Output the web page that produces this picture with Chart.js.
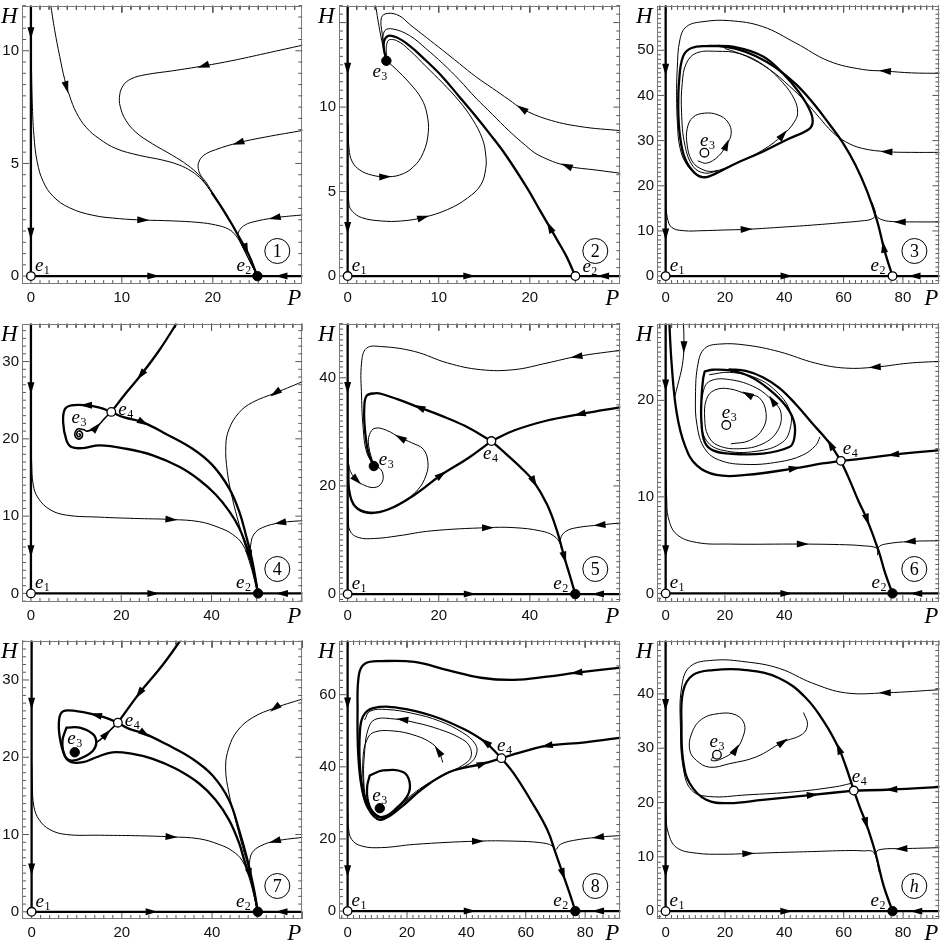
<!DOCTYPE html>
<html><head><meta charset="utf-8">
<script src="https://cdn.jsdelivr.net/npm/chart.js@4.4.1/dist/chart.umd.min.js"></script>
<style>
html,body{margin:0;padding:0;background:#fff;overflow:hidden;width:945px;height:943px;position:relative;}
canvas{position:absolute;}
</style></head><body>
<script>
// ================= DATA (P, H) =================
// ---- Panel 1 ----
const p1_xTicks = [0, 10, 20];
const p1_yTicks = [0, 5, 10];
const p1_open = [[0, 0]];
const p1_filled = [[24.9, 0]];
const p1_vert = [[0, 12.5], [0, 0]];
const p1_horz = [[0, 0], [31, 0]];
const p1_a = [[2.15,12.1],[2.62,10.9],[3.17,9.74],[3.72,8.72],[4.26,7.99],[4.99,7.26],[6.08,6.6],[7.54,6.09],[9.36,5.66],[11.9,5.36],[14.46,5.15],[16.3,4.93],[17.7,4.64],[18.8,4.27],[19.9,3.69],[21.0,3.03],[22.1,2.3],[23.0,1.65],[23.9,0.99],[24.9,0]];
const p1_b = [[30,10.26],[25.76,9.88],[22.1,9.56],[19.0,9.33],[15.56,9.11],[12.64,8.94],[11.0,8.75],[10.1,8.43],[9.73,7.92],[9.9,7.41],[10.46,6.9],[11.55,6.38],[13.37,5.87],[15.56,5.36],[17.2,4.93],[18.47,4.49],[19.56,3.91],[21.0,3.03],[22.1,2.3],[23.0,1.65],[23.9,0.99],[24.9,0]];
const p1_c = [[30,6.47],[25.76,6.17],[22.84,5.92],[20.3,5.61],[19.0,5.36],[18.47,5.07],[18.4,4.78],[18.65,4.49],[19.2,4.2],[19.9,3.76],[21.0,3.03],[22.1,2.3],[23.0,1.65],[23.9,0.99],[24.9,0]];
const p1_d = [[0.05,9.5],[0.15,7.7],[0.33,6.24],[0.69,5.07],[1.35,4.2],[2.44,3.54],[4.26,3.03],[6.81,2.7],[9.73,2.55],[12.28,2.49],[15.56,2.45],[18.47,2.38],[20.3,2.27],[21.75,2.08],[22.55,1.79],[23.2,1.36],[24.1,0.63],[24.9,0]];
const p1_e = [[30,2.72],[26.85,2.59],[24.3,2.39],[23.39,2.23],[22.9,2.01],[22.77,1.79],[23.2,1.36],[24.1,0.63],[24.9,0]];
const p1_f = [[19.9,3.69],[21.0,3.03],[22.1,2.3],[23.0,1.65],[23.9,0.99],[24.9,0]];
const p1_arrows = [[0,10.8,0,10.3],[0,1.9,0,1.4],[13.4,0,14,0],[27.6,0,27,0],[3.9,8.4,4.1,8.1],[19.0,9.33,18.0,9.2],[22.84,5.92,21.8,5.78],[12.3,2.49,13.3,2.48],[26.85,2.59,25.8,2.5],[23.64,1.21,24.0,0.8]];

// ---- Panel 2 ----
const p2_xTicks = [0, 10, 20];
const p2_yTicks = [0, 5, 10];
const p2_open = [[0, 0], [25, 0]];
const p2_filled = [[4.25, 12.74]];
const p2_vert = [[0, 16.5], [0, 0]];
const p2_horz = [[0, 0], [31, 0]];
const p2_thick = [[24.98,0],[24.06,1.12],[23.04,2.1],[22.21,2.87],[21.16,3.84],[19.71,5.2],[17.37,7.15],[15.62,8.4],[13.88,9.57],[12.21,10.64],[10.39,11.8],[8.57,12.77],[6.75,13.65],[5.35,14.13],[4.4,14.2],[3.95,13.7],[4.25,12.74]];
const p2_a = [[30,8.6],[25.5,8.85],[21.9,9.28],[19.16,9.9],[17.7,10.44],[15.89,11.12],[14.07,11.8],[12.25,12.58],[10.44,13.36],[8.62,14.13],[6.8,14.9],[5.71,15.39],[4.44,15.55],[3.71,15.3],[3.8,14.3],[4.0,13.4],[4.25,12.74]];
const p2_b = [[30,6.08],[27.35,6.27],[24.07,6.52],[20.98,7.15],[19.53,7.73],[17.7,8.6],[15.89,9.57],[14.07,10.54],[12.25,11.61],[10.44,12.58],[8.62,13.45],[6.8,14.23],[4.98,14.62],[4.07,14.52],[3.9,13.8],[4.25,12.74]];
const p2_c = [[0.05,5.5],[0.15,4.23],[0.51,3.84],[1.53,3.46],[3.71,3.26],[5.89,3.26],[8.25,3.46],[10.98,3.94],[13.16,4.62],[14.62,5.4],[15.16,6.37],[15.16,7.15],[14.8,8.11],[13.7,9.28],[12.25,10.35],[10.44,11.42],[8.62,12.39],[6.8,13.36],[5.35,13.94],[4.4,13.9],[4.25,12.74]];
const p2_d = [[0.05,9.0],[0.15,7.53],[0.51,6.76],[1.35,6.27],[2.62,5.98],[4.07,5.88],[5.71,5.98],[7.2,6.45],[8.3,7.3],[8.85,8.5],[8.7,9.6],[8.1,10.5],[6.8,11.42],[5.2,12.3],[4.25,12.74]];
const p2_e = [[2.98,16.3],[3.53,14.52],[3.97,13.36],[4.25,12.74]];
const p2_arrows = [[0,12.3,0,11.8],[0,2.87,0,2.37],[13.3,0,13.9,0],[28.1,0,27.5,0],[22.21,2.87,21.85,3.25],[19.16,9.9,18.2,10.25],[24.07,6.52,23.0,6.75],[8.25,3.46,9.3,3.62],[4.07,5.88,5.0,5.9]];

// ---- Panel 3 ----
const p3_xTicks = [0, 20, 40, 60, 80];
const p3_yTicks = [0, 10, 20, 30, 40, 50];
const p3_open = [[0, 0], [76.5, 0], [13.07, 27.33]];
const p3_filled = [];
const p3_vert = [[0, 61], [0, 0]];
const p3_horz = [[0, 0], [93, 0]];
const p3_cycle = [[14.86,51.0],[23.8,50.66],[32.7,48.7],[39.4,45.0],[45.0,40.67],[48.9,36.3],[49.5,33.75],[47.8,32.3],[41.7,30.47],[32.7,27.55],[23.8,25.0],[17.1,22.8],[13.18,21.87],[9.83,22.81],[6.48,26.1],[4.8,31.2],[4.25,37.0],[4.58,43.6],[5.92,48.7],[8.72,50.5],[14.86,51.0]];
const p3_e2 = [[76.5,0],[74.6,3.86],[73.5,6.41],[71.3,12.24],[67.9,18.8],[64.0,24.6],[59.55,29.7],[55.1,33.75],[49.5,38.5],[43.9,42.5],[37.2,46.1],[30.5,48.7],[23.8,50.3],[18,51]];
const p3_outer = [[93,44.9],[83,45.0],[74.1,45.4],[66.3,45.77],[55.1,47.6],[43.9,51.6],[32.7,55.25],[21.6,56.56],[12.6,56.34],[7.04,55.25],[4.8,52.33],[3.9,45.77],[3.69,39.94],[4.0,33.5],[4.8,28.5],[7.0,24.8],[10.4,22.6],[13.7,22.0],[17.1,22.7]];
const p3_mid = [[93,27.4],[83,27.4],[74.6,27.55],[66.3,28.28],[60.7,29.74],[56.2,31.9],[51.7,35.2],[47.3,38.5],[41.7,42.1],[35.0,45.77],[27.15,48.7],[20,50.4]];
const p3_inner = [[10.95,25.5],[13.74,25.0],[17.65,26.46],[20.45,29.0],[22.1,31.56],[21.0,34.1],[17.65,35.7],[13.18,36.08],[9.27,35.2],[7.26,32.65],[7.26,29.0],[8.7,25.7],[11.5,23.9],[16.0,23.2],[23.8,25.0],[32.7,27.9],[39.44,31.2],[43.35,34.1],[44.5,36.3],[43.35,39.2],[39.44,42.86],[32.7,46.87],[24.9,49.27],[17.1,49.78],[10.4,49.4],[7.04,47.2],[5.6,42.86],[5.36,36.3],[6.48,29.0],[9.27,24.27],[13.18,22.81],[17.5,23.3]];
const p3_low = [[0.05,20],[0.1,16.6],[0.56,12.97],[2.0,10.8],[5.92,10.06],[12.6,10.06],[19.3,10.2],[27.15,10.35],[38.3,10.8],[49.5,11.3],[60.7,11.9],[66.26,12.24],[69.3,12.6],[70.8,13.6],[69.6,16.2]];
const p3_lowR = [[93,12.0],[84.5,12.0],[76,12.1],[72.5,12.6],[70.8,13.6],[69.6,16.2]];
const p3_arrows = [[0,45.8,0,44.3],[0,9.33,0,7.8],[40.6,0,42.6,0],[84.1,0,82.1,0],[73.5,6.41,73.0,8.3],[74.1,45.4,72.1,45.5],[74.6,27.55,72.6,27.6],[20.45,29.0,21.3,30.3],[39.44,31.2,41.0,32.4],[27.15,10.35,29.15,10.4],[79.1,12.0,77.1,12.0]];

// ---- Panel 4 ----
const p4_xTicks = [0, 20, 40];
const p4_yTicks = [0, 10, 20, 30];
const p4_open = [[0, 0], [17.8, 23.49]];
const p4_filled = [[50.3, 0]];
const p4_e3 = [[10.66, 20.64]];
const p4_vert = [[0, 36], [0, 0]];
const p4_horz = [[0, 0], [61, 0]];
const p4_top = [[32.87,35.5],[28.46,31.5],[24.4,28.3],[21.1,25.96],[17.8,23.49]];
const p4_spiral = [[10.66,20.64],[10.95,20.55],[10.75,20.3],[10.3,20.35],[10.15,20.7],[10.5,21.0],[11.1,20.95],[11.45,20.55],[11.1,20.1],[10.3,20.0],[9.75,20.4],[9.85,20.95],[10.5,21.3],[11.6,21.2],[12.5,21.0],[14.5,21.5],[16.3,22.64],[17.8,23.49]];
const p4_loop = [[17.8,23.49],[15.2,24.04],[12.3,24.34],[8.97,24.34],[7.5,23.83],[7.13,22.13],[7.87,19.79],[8.97,18.94],[11.54,18.81],[15.2,19.15],[21.1,18.72],[27.0,17.87],[32.87,16.38],[37.3,14.68],[40.96,12.77],[43.9,10.64],[46.1,8.51],[47.57,6.38],[48.46,4.89],[49.4,2.55],[50.3,0]];
const p4_right = [[17.8,23.49],[20.5,22.8],[24.8,22.13],[29.9,20.64],[35.8,18.72],[40.2,16.6],[43.9,13.6],[46.1,10.64],[47.57,7.66],[49.0,4.26],[50.3,0]];
const p4_tr = [[61,27.6],[54.2,25.96],[49.0,24.7],[46.1,23.4],[43.9,21.3],[43.16,19.15],[43.5,15.74],[44.6,12.34],[46.1,8.94],[47.57,5.96],[49.4,2.55],[50.3,0]];
const p4_low = [[0.05,20],[0.15,17.0],[0.51,14.04],[1.6,12.34],[4.2,10.85],[7.87,10.13],[15.2,9.87],[23,9.7],[31.0,9.57],[37.3,9.28],[41.7,8.51],[44.6,7.66],[46.84,6.38],[48.3,4.26],[50.3,0]];
const p4_lowR = [[61,9.45],[55.3,9.15],[51.25,8.51],[49.4,7.66],[48.7,6.38],[48.5,4.5]];
const p4_arrows = [[0,26.6,0,25.6],[0,5.53,0,4.53],[27.0,0,28,0],[55.7,0,54.7,0],[24.4,28.3,23.6,27.7],[14.5,21.5,15.3,22.0],[12.3,24.34,11.3,24.34],[48.46,4.89,48.8,3.9],[24.8,22.13,25.8,21.8],[54.2,25.96,53.3,25.6],[31.0,9.57,32,9.53],[55.3,9.15,54.3,9.05]];

// ---- Panel 5 ----
const p5_xTicks = [0, 20, 40];
const p5_yTicks = [0, 20, 40];
const p5_open = [[0, 0], [31.56, 28.3]];
const p5_filled = [[49.96, 0], [5.75, 23.68]];
const p5_vert = [[0, 51], [0, 0]];
const p5_horz = [[0, 0], [61, 0]];
const p5_e4e2 = [[31.56,28.3],[35.05,25.7],[38.5,23.0],[40.87,20.8],[43.78,16.55],[45.96,11.69],[47.56,6.82],[48.87,3.16],[49.96,0]];
const p5_rIn = [[61,34.7],[56,34.0],[51.05,33.3],[43.78,32.1],[36.5,30.25],[31.56,28.3]];
const p5_up = [[31.56,28.3],[25.6,31.16],[20.5,33.0],[15.78,34.5],[11.05,36.0],[7.5,37.0],[5.96,37.13],[4.15,36.64],[3.64,34.2],[3.78,30.55],[4.5,26.3],[5.75,23.68]];
const p5_lowThick = [[0.1,24],[0.15,22.64],[0.36,18.99],[1.6,16.25],[4.5,15.03],[8.87,15.64],[14.7,18.38],[20.5,22.03],[26.33,25.08],[31.56,28.3]];
const p5_top = [[61,45.2],[50.33,43.94],[43.78,42.73],[36.5,41.5],[29.2,41.5],[21.96,42.73],[14.7,44.86],[7.4,45.77],[4.15,45.47],[3.05,42.73],[3.05,36.64],[3.42,30.55],[4.15,26.3],[5.75,23.68]];
const p5_loop = [[0.1,22],[0.22,20.2],[1.24,16.86],[3.78,15.34],[7.4,15.34],[11.8,16.86],[15.4,19.3],[17.24,22.03],[17.6,24.5],[16.6,26.8],[14.0,28.0],[11.64,28.85],[8.5,30.3],[6.0,30.67],[4.8,29.5],[4.6,27.5],[5.75,23.68]];
const p5_spiral = [[0.1,27],[0.15,26.3],[0.36,23.25],[1.96,21.12],[3.78,20.08],[5.96,19.72],[7.42,20.5],[7.78,22.03],[7.05,23.25],[5.75,23.68]];
const p5_low = [[0.1,16],[0.15,14.1],[0.51,11.69],[2.33,10.47],[5.96,10.29],[11.05,10.77],[18.33,11.69],[30.7,12.29],[36.5,12.29],[42.33,11.69],[45.24,10.77],[46.7,9.25],[47.56,6.82],[48.87,3.16],[49.96,0]];
const p5_lowR = [[61,13.25],[55.4,12.78],[50.33,12.29],[47.8,11.56],[46.7,10.16],[46.9,8.5]];
const p5_arrows = [[0,38.2,0,37.0],[26.7,0,27.7,0],[55.05,0,54.05,0],[40.87,20.8,41.5,19.8],[47.56,6.82,47.9,5.8],[51.05,33.3,50.0,33.1],[15.78,34.5,14.8,34.85],[20.5,22.03,21.4,22.6],[50.33,43.94,49.3,43.8],[11.64,28.85,10.7,29.3],[1.96,21.12,2.7,20.5],[30.7,12.29,31.7,12.29],[55.4,12.78,54.4,12.7]];

// ---- Panel 6 ----
const p6_xTicks = [0, 20, 40];
const p6_yTicks = [0, 10, 20];
const p6_open = [[0, 0], [20.45, 17.44], [59.1, 13.73]];
const p6_filled = [[76.5, 0]];
const p6_vert = [[0, 29], [0, 0]];
const p6_horz = [[0, 0], [93, 0]];
const p6_e4e2 = [[59.1,13.73],[61.8,11.92],[65.0,9.6],[67.9,7.67],[71.8,4.43],[74.1,2.04],[76.5,0]];
const p6_rIn = [[93,14.85],[76.9,14.38],[66.26,13.97],[59.1,13.73]];
const p6_lIn = [[1.1,29],[2.0,23.85],[3.7,18.74],[6.48,15.33],[10.4,13.29],[17.1,12.27],[27.15,12.27],[43.35,12.95],[52.85,13.46],[59.1,13.73]];
const p6_up = [[59.1,13.73],[57.5,14.5],[55.64,15.4],[53.0,16.4],[49.5,17.6],[43.9,19.6],[38.3,21.3],[32.74,22.4],[27,23.05],[21.5,23.2]];
const p6_ring = [[13.18,23.0],[15.98,23.17],[21.56,23.1],[28.27,22.49],[35.0,21.12],[40.56,19.42],[43.35,17.72],[43.35,16.01],[41.7,15.16],[32.74,14.48],[21.56,14.48],[15.98,14.82],[13.18,15.67],[12.07,17.72],[12.07,20.1],[12.6,22.15],[13.18,23.0]];
const p6_outer = [[93,24.05],[81.9,23.85],[70.7,23.44],[60.7,23.34],[50.6,23.85],[38.3,25.04],[27.15,25.72],[18.2,25.83],[13.18,25.38],[10.95,23.85],[10.06,20.44],[10.6,17.38],[13.18,14.99],[18.2,13.8],[27.15,13.36],[38.3,13.63],[46.1,14.31],[50.6,15.33],[52.0,16.18]];
const p6_topdown = [[5.92,29],[6.15,25.55],[5.6,23.6],[4.0,21.5],[3.0,20.3]];
const p6_inner = [[22.1,15.5],[28.27,15.84],[32.74,17.04],[33.85,18.74],[31.6,20.27],[27.7,20.6],[21.56,21.19],[16.5,21.06],[13.74,20.1],[13.18,18.06],[14.3,16.35],[17.65,15.33],[24.9,14.99],[32.74,15.5],[37.77,16.86],[38.88,18.74],[36.1,19.93],[30.5,21.3],[21.56,22.15],[14.86,21.98],[12.6,20.78],[12.07,18.06],[13.74,15.84],[19.33,14.82],[30.5,14.72],[39.44,15.67],[42.2,17.38],[41.7,19.08],[37.2,20.96],[30.5,22.32],[21.56,22.9],[14.86,22.66]];
const p6_low = [[0.1,12],[0.34,9.88],[0.9,7.84],[3.7,6.13],[10.4,5.28],[21.56,5.11],[46.1,5.11],[60.7,5.04],[66.26,4.94],[70.7,4.77],[71.8,4.43],[74.1,2.04],[76.5,0]];
const p6_lowR = [[93,5.46],[82.5,5.38],[74.1,5.11],[71.8,4.77],[71.5,4.0]];
const p6_arrows = [[0,21.6,0,21.0],[0,4.43,0,3.83],[40.56,0,42.56,0],[84.7,0,82.7,0],[67.9,7.67,68.6,7.0],[76.9,14.38,74.9,14.3],[43.35,12.95,45.35,13.05],[55.64,15.4,55.0,15.75],[70.7,23.44,68.7,23.4],[6.15,25.55,6.1,24.9],[27.7,20.6,26.5,20.8],[36.1,19.93,35.0,20.45],[46.1,5.11,48.1,5.11],[82.5,5.38,80.5,5.34]];

// ---- Panel 7 ----
const p7_xTicks = [0, 20, 40];
const p7_yTicks = [0, 10, 20, 30];
const p7_open = [[0, 0], [19.12, 24.47]];
const p7_filled = [[50.15, 0], [9.56, 20.64]];
const p7_vert = [[0, 36], [0, 0]];
const p7_horz = [[0, 0], [61, 0]];
const p7_top = [[33.46,35.5],[29.0,31.9],[23.9,28.3],[20.96,25.96],[19.12,24.47]];
const p7_loop = [[19.12,24.47],[16.5,25.1],[14.34,25.45],[9.93,25.96],[6.99,25.96],[6.1,24.9],[6.25,22.55],[7.35,20.2],[8.82,19.36],[11.4,19.36],[14.34,20.0],[17.9,20.64],[22.4,20.43],[26.84,19.79],[32.0,18.5],[37.13,16.6],[40.8,14.47],[43.75,11.9],[45.96,8.94],[47.5,6.0],[48.3,4.9],[49.3,2.5],[50.15,0]];
const p7_right = [[19.12,24.47],[21.5,23.7],[25.0,23.06],[29.8,21.7],[35.66,19.79],[40.07,17.66],[43.75,14.47],[45.96,10.64],[47.8,6.8],[49.26,2.98],[50.15,0]];
const p7_ring = [[7.72,23.83],[10.66,23.83],[13.6,22.98],[14.34,21.9],[13.6,20.85],[11.4,20.0],[8.82,19.57],[7.35,20.2],[6.84,22.13],[7.72,23.83]];
const p7_toE4 = [[14.34,21.9],[15.5,22.4],[16.54,22.98],[18.0,23.83],[19.12,24.47]];
const p7_tr = [[61,27.7],[54.0,26.4],[48.9,25.1],[45.6,23.4],[43.75,21.28],[43.0,18.72],[43.75,15.32],[45.2,11.9],[46.7,8.5],[48.16,5.53],[49.3,2.5],[50.15,0]];
const p7_low = [[0.05,19],[0.15,16.6],[0.51,13.6],[1.69,11.9],[4.04,10.64],[7.72,10.0],[15.07,9.91],[23,9.85],[30.9,9.7],[37.13,9.45],[41.54,8.72],[44.5,7.87],[46.7,6.6],[48.3,4.26],[50.15,0]];
const p7_lowR = [[61,9.7],[54.0,9.15],[50.7,8.51],[48.9,7.66],[48.3,6.38],[48.2,5.0]];
const p7_arrows = [[0,27.0,0,26.0],[0,5.53,0,4.53],[26.5,0,27.5,0],[55.5,0,54.5,0],[23.9,28.3,23.1,27.65],[14.34,25.45,13.3,25.6],[48.3,4.9,48.7,3.8],[25.0,23.06,26.0,22.65],[16.54,22.98,17.3,23.45],[54.0,26.4,53.1,26.0],[30.9,9.7,31.9,9.66],[54.0,9.15,53.0,9.0]];

// ---- Panel 8 ----
const p8_xTicks = [0, 20, 40, 60, 80];
const p8_yTicks = [0, 20, 40, 60];
const p8_open = [[0, 0], [51.8, 42.4]];
const p8_filled = [[76.67, 0], [10.83, 28.53]];
const p8_vert = [[0, 76], [0, 0]];
const p8_horz = [[0, 0], [93, 0]];
const p8_e4e2 = [[51.8,42.4],[56.0,38.1],[61.6,30.8],[67.2,22.6],[70.0,16.2],[72.5,10.3],[75.0,4.38],[76.67,0]];
const p8_rIn = [[93,48.2],[80,46.8],[67.2,45.85],[58.26,44.0],[51.8,42.4]];
const p8_big = [[51.8,42.4],[49.0,44.8],[46.5,46.8],[39.3,50.4],[28.7,54.1],[17.5,56.3],[8.6,56.3],[5.25,54.1],[4.13,49.5],[4.13,40.4],[5.25,33.1],[7.48,28.5],[11.94,25.8],[17.5,28.5],[25.3,34.0],[34.26,38.56],[45.4,40.84],[51.8,42.4]];
const p8_small = [[7.48,37.65],[11.94,39.0],[18.64,38.56],[20.87,35.8],[20.3,32.2],[16.4,28.5],[12.5,26.25],[9.15,26.7],[6.9,30.4],[6.58,34.5],[7.48,37.65]];
const p8_spiral = [[32.0,41.3],[30.9,44.0],[28.7,46.3],[23.1,48.6],[15.3,49.95],[8.6,49.5],[6.36,47.2],[5.25,43.1],[5.25,35.8],[6.36,30.4],[9.7,26.7],[13.06,26.25],[17.5,29.44],[25.3,34.46],[33.15,38.1],[38.7,40.4],[41.5,42.66],[40.96,45.85],[37.6,48.1],[30.9,50.4],[23.1,52.2],[15.3,53.3],[9.15,53.1],[6.9,50.4],[5.8,44.9],[5.47,35.8],[6.9,29.44],[10.27,26.25],[13.6,26.25],[18.64,29.9],[26.45,34.7],[34.26,38.4],[40.96,40.84],[43.4,43.57],[43.0,46.3],[38.7,49.5],[30.9,52.7],[22.0,54.8],[13.06,55.9],[7.48,55.4],[5.8,53.1]];
const p8_top = [[93,67.6],[77.2,66.1],[67.2,65.0],[56.0,64.1],[44.9,64.7],[33.7,66.8],[22.5,69.1],[11.4,69.3],[5.8,68.6],[3.8,65.5],[3.35,55.4],[3.57,43.6],[4.7,34.5],[6.9,28.5],[10.83,25.3],[15.85,27.6]];
const p8_low = [[0.1,27],[0.22,23.5],[1.34,19.9],[4.7,18.05],[11.4,17.6],[22.5,18.5],[43.75,19.4],[56.0,19.4],[65.0,18.96],[68.9,18.05],[70.0,16.2]];
const p8_lowR = [[93,21.0],[84.5,20.5],[76.1,19.6],[71.65,18.5],[70.3,17.1]];
const p8_arrows = [[0,57.7,0,55.7],[0,11.2,0,9.2],[40.96,0,42.96,0],[84.5,0,82.5,0],[72.5,10.3,73.2,8.6],[67.2,45.85,65.2,45.5],[46.5,46.8,45.2,47.6],[45.4,40.84,46.9,41.3],[30.6,44.3,29.6,45.5],[18.6,53.1,16.6,53.3],[77.2,66.1,75.2,65.9],[43.75,19.4,45.75,19.4],[84.5,20.5,82.5,20.3]];

// ---- Panel h ----
const ph_xTicks = [0, 20, 40, 60, 80];
const ph_yTicks = [0, 10, 20, 30, 40];
const ph_open = [[0, 0], [17.3, 28.8], [63.4, 22.2]];
const ph_filled = [[76.45, 0]];
const ph_vert = [[0, 51], [0, 0]];
const ph_horz = [[0, 0], [93, 0]];
const ph_e4e2 = [[63.4,22.2],[65.5,19.0],[67.5,16.24],[70.65,10.8],[73.4,4.73],[76.45,0]];
const ph_rIn = [[93,22.9],[76.2,22.4],[63.4,22.2]];
const ph_big = [[63.4,22.2],[60.5,27.0],[58.4,29.9],[53.9,34.4],[47.2,39.3],[38.3,42.9],[27.1,44.4],[16.0,44.4],[9.26,43.5],[5.9,40.5],[5.36,33.8],[5.9,27.75],[8.15,23.5],[13.7,20.5],[21.5,19.9],[32.7,20.5],[49.4,21.4],[63.4,22.2]];
const ph_outer = [[93,40.8],[74.0,40.2],[60.6,40.2],[49.4,42.0],[38.3,44.7],[27.1,45.9],[16.0,46.2],[8.15,45.0],[5.36,41.1],[5.0,33.8],[5.9,26.5],[8.7,22.3],[14.8,21.1],[27.1,21.4],[43.86,22.0],[57.25,22.9],[62.3,23.5]];
const ph_inner = [[17.3,28.8],[16.0,28.4],[15.4,27.75],[18.2,27.9],[23.55,29.7],[26.0,32.0],[26.56,34.4],[23.77,36.1],[18.2,36.4],[12.05,35.3],[8.7,32.6],[8.15,29.6],[10.4,27.75],[14.84,26.5],[21.5,27.15],[30.5,28.4],[39.4,31.1],[46.1,32.6],[47.8,34.4],[46.5,36.5]];
const ph_low = [[0.1,22],[0.1,18.06],[0.9,14.4],[3.7,11.7],[10.4,10.67],[19.3,10.48],[27.7,10.6],[38.3,10.8],[49.4,10.97],[60.6,11.15],[66.2,11.1],[70.1,10.8],[72.0,7.15]];
const ph_lowR = [[93,11.7],[79.6,11.5],[72.9,11.4],[70.9,10.8],[71.6,8.5]];
const ph_arrows = [[0,38.06,0,37.06],[0,7.45,0,6.45],[40.5,0,42.5,0],[84.6,0,82.6,0],[67.5,16.24,68.0,15.2],[76.2,22.4,74.2,22.35],[58.4,29.9,57.6,31.0],[49.4,21.4,51.4,21.5],[74.0,40.2,72.0,40.2],[23.55,29.7,24.6,30.6],[39.4,31.1,41.0,31.7],[27.7,10.6,29.7,10.64],[79.6,11.5,77.6,11.45]];

// ================= LAYOUT / STYLE =================
const SANS = '"Liberation Sans", Arial, Helvetica, sans-serif';
const SERIF = '"Liberation Serif", "Times New Roman", "DejaVu Serif", serif';

const panels = [
  {id:'1', frame:[22,304,2,284], x:[-0.98,29.84], y:[-0.35,12.0], xt:p1_xTicks, yt:p1_yTicks, xMinor:1, yMinor:0.5,
   thin:[p1_a,p1_b,p1_c,p1_d,p1_e], mid:[], thick:[p1_vert,p1_horz,p1_f], arrows:p1_arrows, open:p1_open, filled:p1_filled,
   labels:[{t:'1',p:p1_open[0],dx:4,dy:-5,al:'l'},{t:'2',p:p1_filled[0],dx:-6,dy:-5,al:'r'}]},
  {id:'2', frame:[339,622,2,284], x:[-0.95,29.93], y:[-0.47,16.0], xt:p2_xTicks, yt:p2_yTicks, xMinor:1, yMinor:0.5,
   thin:[p2_a,p2_b,p2_c,p2_d,p2_e], mid:[], thick:[p2_vert,p2_horz,p2_thick], arrows:p2_arrows, open:p2_open, filled:p2_filled,
   labels:[{t:'1',p:p2_open[0],dx:4,dy:-5,al:'l'},{t:'2',p:p2_open[1],dx:7,dy:-4,al:'l'},{t:'3',p:p2_filled[0],dx:1,dy:16,al:'r'}]},
  {id:'3', frame:[657,941,2,284], x:[-2.92,92.3], y:[-1.75,59.9], xt:p3_xTicks, yt:p3_yTicks, xMinor:2, yMinor:1,
   thin:[p3_outer,p3_mid,p3_inner,p3_low,p3_lowR], mid:[], thick:[p3_vert,p3_horz,p3_cycle,p3_e2], arrows:p3_arrows, open:p3_open, filled:p3_filled,
   labels:[{t:'1',p:p3_open[0],dx:4,dy:-5,al:'l'},{t:'2',p:p3_open[1],dx:-7,dy:-5,al:'r'},{t:'3',p:p3_open[2],dx:3,dy:-7,al:'c'}]},
  {id:'4', frame:[22,304,320,602], x:[-1.98,60.1], y:[-1.11,34.9], xt:p4_xTicks, yt:p4_yTicks, xMinor:2, yMinor:1,
   thin:[p4_tr,p4_low,p4_lowR], mid:[p4_spiral], thick:[p4_vert,p4_horz,p4_top,p4_loop,p4_right], arrows:p4_arrows, open:p4_open, filled:p4_filled,
   labels:[{t:'1',p:p4_open[0],dx:4,dy:-5,al:'l'},{t:'2',p:p4_filled[0],dx:-7,dy:-5,al:'r'},{t:'3',p:p4_e3[0],dx:0,dy:-11,al:'c'},{t:'4',p:p4_open[1],dx:7,dy:3,al:'l'}]},
  {id:'5', frame:[339,622,320,602], x:[-1.9,59.85], y:[-1.46,50.0], xt:p5_xTicks, yt:p5_yTicks, xMinor:2, yMinor:1,
   thin:[p5_top,p5_loop,p5_spiral,p5_low,p5_lowR], mid:[], thick:[p5_vert,p5_horz,p5_e4e2,p5_rIn,p5_up,p5_lowThick], arrows:p5_arrows, open:p5_open, filled:p5_filled,
   labels:[{t:'1',p:p5_open[0],dx:4,dy:-5,al:'l'},{t:'2',p:p5_filled[0],dx:-7,dy:-5,al:'r'},{t:'3',p:p5_filled[1],dx:5,dy:-1,al:'l'},{t:'4',p:p5_open[1],dx:-1,dy:18,al:'c'}]},
  {id:'6', frame:[657,941,320,602], x:[-2.92,92.3], y:[-0.89,27.94], xt:p6_xTicks, yt:p6_yTicks, xMinor:2, yMinor:0.5,
   thin:[p6_outer,p6_topdown,p6_inner,p6_low,p6_lowR], mid:[], thick:[p6_vert,p6_horz,p6_e4e2,p6_rIn,p6_lIn,p6_up,p6_ring], arrows:p6_arrows, open:p6_open, filled:p6_filled,
   labels:[{t:'1',p:p6_open[0],dx:4,dy:-5,al:'l'},{t:'2',p:p6_filled[0],dx:-6,dy:-5,al:'r'},{t:'3',p:p6_open[1],dx:3,dy:-7,al:'c'},{t:'4',p:p6_open[2],dx:2,dy:-7,al:'l'}]},
  {id:'7', frame:[22,304,637,919], x:[-2.13,60.0], y:[-0.93,35.08], xt:p7_xTicks, yt:p7_yTicks, xMinor:2, yMinor:1,
   thin:[p7_tr,p7_low,p7_lowR], mid:[p7_toE4], thick:[p7_vert,p7_horz,p7_top,p7_loop,p7_right,p7_ring], arrows:p7_arrows, open:p7_open, filled:p7_filled,
   labels:[{t:'1',p:p7_open[0],dx:4,dy:-5,al:'l'},{t:'2',p:p7_filled[0],dx:-7,dy:-5,al:'r'},{t:'3',p:p7_filled[1],dx:0,dy:-8,al:'c'},{t:'4',p:p7_open[1],dx:7,dy:3,al:'l'}]},
  {id:'8', frame:[339,622,637,919], x:[-2.9,91.83], y:[-2.19,74.97], xt:p8_xTicks, yt:p8_yTicks, xMinor:2, yMinor:2,
   thin:[p8_spiral,p8_low,p8_lowR], mid:[], thick:[p8_vert,p8_horz,p8_e4e2,p8_rIn,p8_big,p8_small,p8_top], arrows:p8_arrows, open:p8_open, filled:p8_filled,
   labels:[{t:'1',p:p8_open[0],dx:4,dy:-5,al:'l'},{t:'2',p:p8_filled[0],dx:-7,dy:-5,al:'r'},{t:'3',p:p8_filled[1],dx:0,dy:-7,al:'c'},{t:'4',p:p8_open[1],dx:3,dy:-7,al:'c'}]},
  {id:'h', frame:[657,941,637,919], x:[-2.9,92.2], y:[-1.45,49.8], xt:ph_xTicks, yt:ph_yTicks, xMinor:2, yMinor:1,
   thin:[ph_outer,ph_inner,ph_low,ph_lowR], mid:[], thick:[ph_vert,ph_horz,ph_e4e2,ph_rIn,ph_big], arrows:ph_arrows, open:ph_open, filled:ph_filled,
   labels:[{t:'1',p:ph_open[0],dx:4,dy:-5,al:'l'},{t:'2',p:ph_filled[0],dx:-7,dy:-5,al:'r'},{t:'3',p:ph_open[1],dx:0,dy:-8,al:'c'},{t:'4',p:ph_open[2],dx:-2,dy:-9,al:'l'}]}
];

function drawE(ctx, sub, x, y, al) {
  ctx.font = 'italic 19px ' + SERIF;
  const w1 = ctx.measureText('e').width;
  ctx.font = '12px ' + SERIF;
  const w2 = ctx.measureText(sub).width;
  const tot = w1 + w2 + 0.5;
  const x0 = al === 'l' ? x : (al === 'r' ? x - tot : x - tot / 2);
  ctx.textAlign = 'left'; ctx.textBaseline = 'alphabetic'; ctx.fillStyle = '#000';
  ctx.font = 'italic 19px ' + SERIF; ctx.fillText('e', x0, y);
  ctx.font = '12px ' + SERIF; ctx.fillText(sub, x0 + w1 + 0.5, y + 3);
}

// inward ruler ticks on all four sides, built as a Chart.js line dataset (segments split by gaps)
function tickDataset(p) {
  const [L, R, T, B] = p.frame;
  const ppx = (R - L) / (p.x[1] - p.x[0]), ppy = (B - T) / (p.y[1] - p.y[0]);
  const xMaj = p.xt[1] - p.xt[0], yMaj = p.yt[1] - p.yt[0];
  const isMaj = (v, m) => Math.abs(v / m - Math.round(v / m)) < 1e-6;
  const pts = [];
  const nx0 = Math.ceil(p.x[0] / p.xMinor - 1e-9), nx1 = Math.floor(p.x[1] / p.xMinor + 1e-9);
  for (let k = nx0; k <= nx1; k++) {
    const v = k * p.xMinor, d = (isMaj(v, xMaj) ? 7 : 4) / ppy;
    pts.push({x: v, y: p.y[0]}, {x: v, y: p.y[0] + d}, {x: v, y: null});
    pts.push({x: v, y: p.y[1]}, {x: v, y: p.y[1] - d}, {x: v, y: null});
  }
  const ny0 = Math.ceil(p.y[0] / p.yMinor - 1e-9), ny1 = Math.floor(p.y[1] / p.yMinor + 1e-9);
  for (let k = ny0; k <= ny1; k++) {
    const v = k * p.yMinor, d = (isMaj(v, yMaj) ? 7 : 4) / ppx;
    pts.push({x: p.x[0], y: v}, {x: p.x[0] + d, y: v}, {x: p.x[0], y: null});
    pts.push({x: p.x[1], y: v}, {x: p.x[1] - d, y: v}, {x: p.x[1], y: null});
  }
  return {data: pts, showLine: true, spanGaps: false, borderColor: '#555', borderWidth: 1, tension: 0,
          pointRadius: 0, pointHoverRadius: 0, fill: false, order: 5, borderCapStyle: 'butt', clip: 2};
}

function makeDeco(p) {
  return {
    id: 'deco' + p.id,
    afterDraw(chart) {
      const ctx = chart.ctx, a = chart.chartArea, xs = chart.scales.x, ys = chart.scales.y;
      ctx.save();
      const L = Math.round(a.left), R = Math.round(a.right), T = Math.round(a.top), B = Math.round(a.bottom);
      ctx.fillStyle = '#7a7a7a';
      ctx.fillRect(L, T, R - L, 1);
      ctx.fillRect(L, B - 1, R - L, 1);
      ctx.fillRect(L, T, 1, B - T);
      ctx.fillRect(R - 1, T, 1, B - T);
      ctx.fillStyle = '#000';
      p.arrows.forEach(ar => {
        const px = xs.getPixelForValue(ar[0]), py = ys.getPixelForValue(ar[1]);
        const qx = xs.getPixelForValue(ar[2]), qy = ys.getPixelForValue(ar[3]);
        let dx = qx - px, dy = qy - py; const n = Math.hypot(dx, dy) || 1; dx /= n; dy /= n;
        const L1 = 6.5, L2 = 5.5, Wd = 3.5;
        ctx.beginPath();
        ctx.moveTo(px + dx * L1, py + dy * L1);
        ctx.lineTo(px - dx * L2 - dy * Wd, py - dy * L2 + dx * Wd);
        ctx.lineTo(px - dx * L2 + dy * Wd, py - dy * L2 - dx * Wd);
        ctx.closePath(); ctx.fill();
      });
      p.labels.forEach(l => {
        drawE(ctx, l.t, xs.getPixelForValue(l.p[0]) + l.dx, ys.getPixelForValue(l.p[1]) + l.dy, l.al);
      });
      const cx = a.right - 25, cy = a.bottom - 33;
      ctx.beginPath(); ctx.arc(cx, cy, 12.5, 0, Math.PI * 2);
      ctx.lineWidth = 1; ctx.strokeStyle = '#000'; ctx.stroke();
      ctx.fillStyle = '#000';
      ctx.font = (p.id === 'h' ? 'italic ' : '') + '18px ' + SERIF;
      ctx.textAlign = 'center'; ctx.textBaseline = 'middle';
      ctx.fillText(p.id, cx, cy + 1);
      ctx.font = 'italic 23px ' + SERIF; ctx.textBaseline = 'alphabetic';
      ctx.textAlign = 'left'; ctx.fillText('H', a.left - 21, a.top + 17);
      ctx.textAlign = 'right'; ctx.fillText('P', a.right - 1, a.bottom + 21);
      ctx.restore();
    }
  };
}

function build(p) {
  const [L, R, T, B] = p.frame;
  const W = R - L + 26, Hh = B - T + 26;
  const cv = document.createElement('canvas');
  cv.width = W; cv.height = Hh;
  cv.style.left = (L - 22) + 'px'; cv.style.top = (T - 2) + 'px';
  document.body.appendChild(cv);
  const line = (pts, w) => ({
    data: pts.map(q => ({x: q[0], y: q[1]})), showLine: true, borderColor: '#000', backgroundColor: '#000',
    borderWidth: w, pointRadius: 0, pointHoverRadius: 0, tension: 0.4, fill: false, order: 2,
    borderCapStyle: 'round', borderJoinStyle: 'round'
  });
  const ds = [tickDataset(p)];
  p.thin.forEach(c => ds.push(line(c, 1)));
  p.mid.forEach(c => ds.push(line(c, 1.6)));
  p.thick.forEach(c => ds.push(line(c, 2.3)));
  ds.push({data: p.open.map(q => ({x: q[0], y: q[1]})), showLine: false, pointRadius: 4.3, pointHoverRadius: 4.3,
           pointBackgroundColor: '#fff', pointBorderColor: '#000', pointBorderWidth: 1.3, order: 0});
  ds.push({data: p.filled.map(q => ({x: q[0], y: q[1]})), showLine: false, pointRadius: 4.7, pointHoverRadius: 4.7,
           pointBackgroundColor: '#000', pointBorderColor: '#000', pointBorderWidth: 1, order: 0});
  const tickFont = {family: SANS, size: 15};
  new Chart(cv, {
    type: 'scatter',
    data: {datasets: ds},
    options: {
      responsive: false, animation: false, devicePixelRatio: 1,
      layout: {padding: {top: 2, right: 4, left: 0, bottom: 0}},
      plugins: {legend: {display: false}, tooltip: {enabled: false}},
      events: [],
      scales: {
        x: {
          type: 'linear', min: p.x[0], max: p.x[1],
          grid: {display: false, drawTicks: false}, border: {display: false},
          ticks: {padding: 5, font: tickFont, color: '#111', autoSkip: false, maxRotation: 0, callback: v => String(v)},
          afterBuildTicks: s => { s.ticks = p.xt.map(v => ({value: v})); },
          afterFit: s => { s.height = 24; s.paddingLeft = 0; s.paddingRight = 0; s.paddingTop = 0; s.paddingBottom = 0; }
        },
        y: {
          type: 'linear', min: p.y[0], max: p.y[1],
          grid: {display: false, drawTicks: false}, border: {display: false},
          ticks: {padding: 3, font: tickFont, color: '#111', autoSkip: false, callback: v => String(v)},
          afterBuildTicks: s => { s.ticks = p.yt.map(v => ({value: v})); },
          afterFit: s => { s.width = 22; s.paddingLeft = 0; s.paddingRight = 0; s.paddingTop = 0; s.paddingBottom = 0; }
        }
      }
    },
    plugins: [makeDeco(p)]
  });
}

panels.forEach(build);
</script>
</body></html>
